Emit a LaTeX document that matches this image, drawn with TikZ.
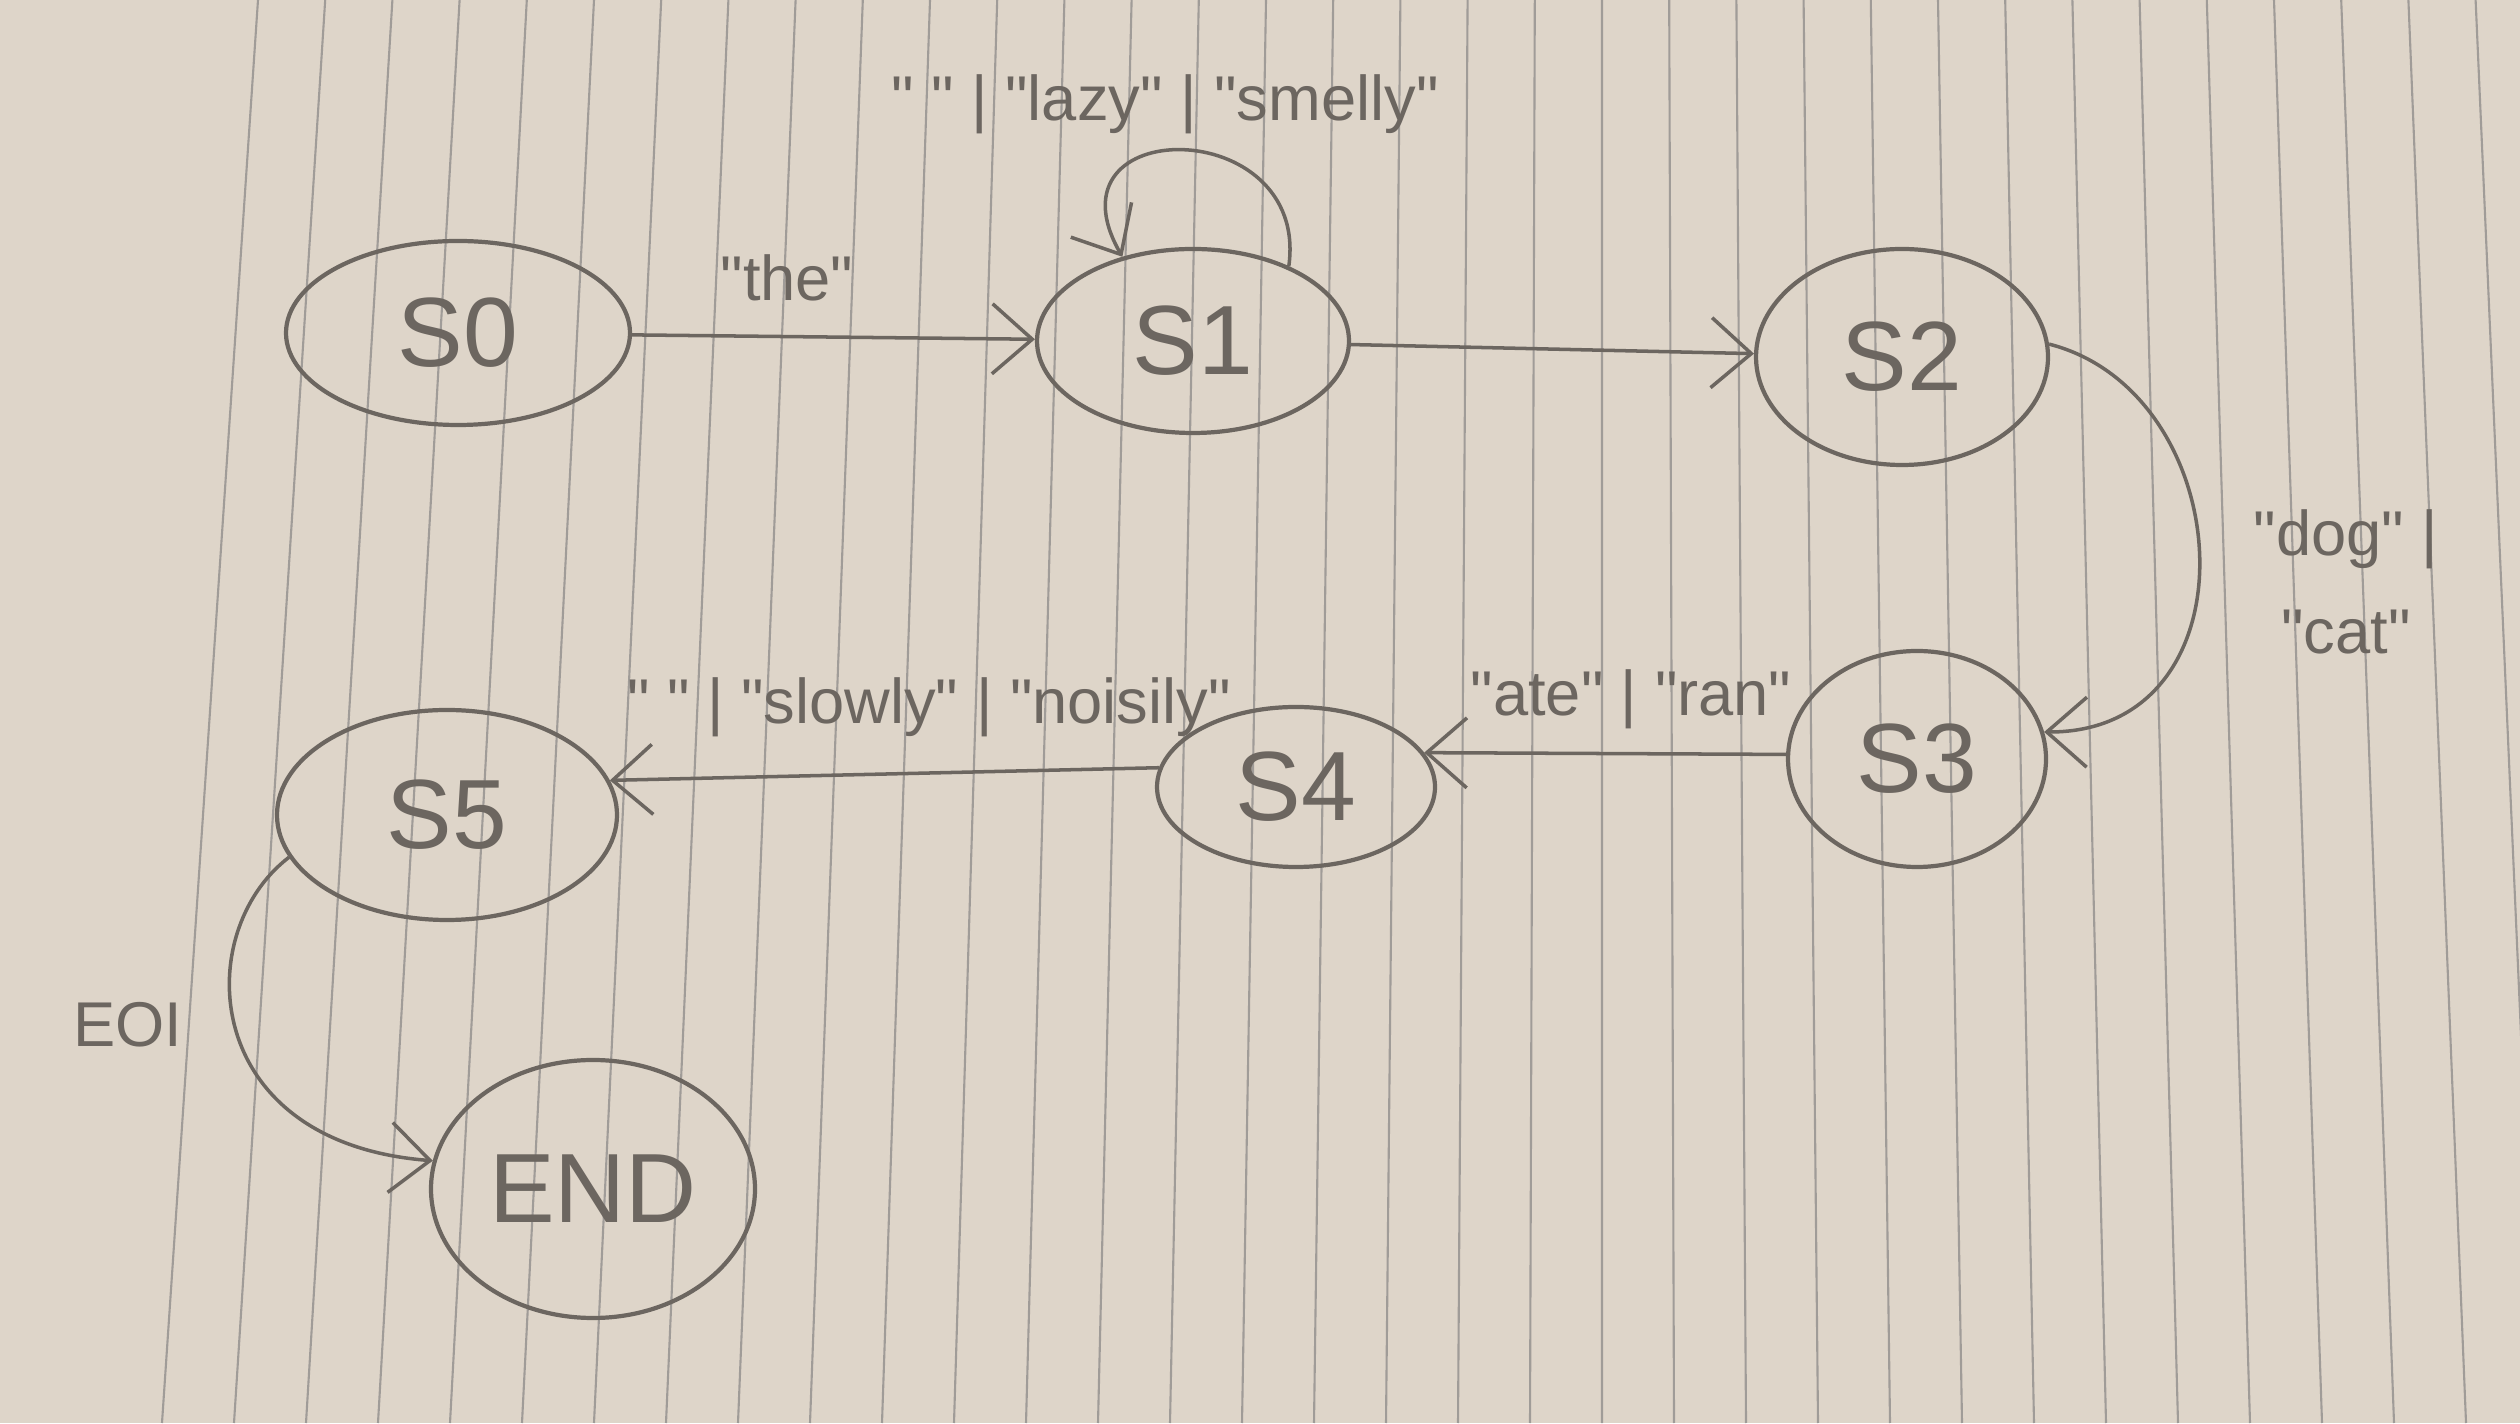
\documentclass[tikz,border=0pt]{standalone}
\usepackage{fontspec}
\setmainfont{Liberation Sans}[Ligatures=TeXOff]
\usetikzlibrary{shapes.geometric,arrows.meta}
\definecolor{pencil}{RGB}{108,102,96}
\definecolor{paper}{RGB}{222,213,201}
\definecolor{rule}{RGB}{160,156,152}

\begin{document}
\begin{tikzpicture}[x=1cm,y=1cm,
  state/.style={ellipse,draw=pencil,line width=1.2pt,inner sep=0pt,text=pencil,
    font=\fontsize{28}{30}\selectfont},
  lbl/.style={text=pencil,font=\fontsize{18}{28}\selectfont},
  edge/.style={draw=pencil,line width=1pt,-{Straight Barb[length=4mm,width=7mm]}}]
  \fill[paper] (0,0) rectangle (25.2,14.23);
  \useasboundingbox (0,0) rectangle (25.2,14.23);
  \foreach \i in {0,...,35}{
    \draw[rule,line width=0.6pt] (1.62+0.72*\i,0) -- (2.58+0.672*\i,14.23);
  }

  \node[state,minimum width=3.44cm,minimum height=1.84cm] (s0) at (4.58,10.90) {S0};
  \node[state,minimum width=3.12cm,minimum height=1.84cm] (s1) at (11.93,10.82) {S1};
  \node[state,minimum width=2.92cm,minimum height=2.16cm] (s2) at (19.02,10.66) {S2};
  \node[state,minimum width=2.58cm,minimum height=2.16cm] (s3) at (19.17,6.64) {S3};
  \node[state,minimum width=2.78cm,minimum height=1.60cm] (s4) at (12.96,6.36) {S4};
  \node[state,minimum width=3.40cm,minimum height=2.10cm] (s5) at (4.47,6.08) {S5};
  \node[state,minimum width=3.24cm,minimum height=2.58cm] (eend) at (5.93,2.34) {END};

  \draw[edge] (s0) -- (s1);
  \node[lbl] (lthe) at (7.87,11.45) {"the"};
  \draw[edge] (s1.38) .. controls (13.1,13.1) and (10.4,13.1) .. (s1.130);
  \node[lbl] (lloop) at (11.65,13.19) {" " | "lazy" | "smelly"};
  \draw[edge] (s1) -- (s2);
  \draw[edge] (s2.5) .. controls (22.4,10.3) and (22.6,6.9) .. (s3.12);
  \node[lbl,align=center] (ldog) at (23.46,8.41) {"dog" |\\"cat"};
  \draw[edge] (s3.178) -- (s4.15);
  \node[lbl] (late) at (16.31,7.24) {"ate" | "ran"};
  \draw[edge] (s4.172) -- (s5.12);
  \node[lbl] (lslow) at (9.29,7.16) {" " | "slowly" | "noisily"};
  \draw[edge] (s5.195) .. controls (1.9,4.9) and (2.0,2.8) .. (eend.170);
  \node[lbl] (leoi) at (1.28,3.98) {EOI};
\end{tikzpicture}
\end{document}
